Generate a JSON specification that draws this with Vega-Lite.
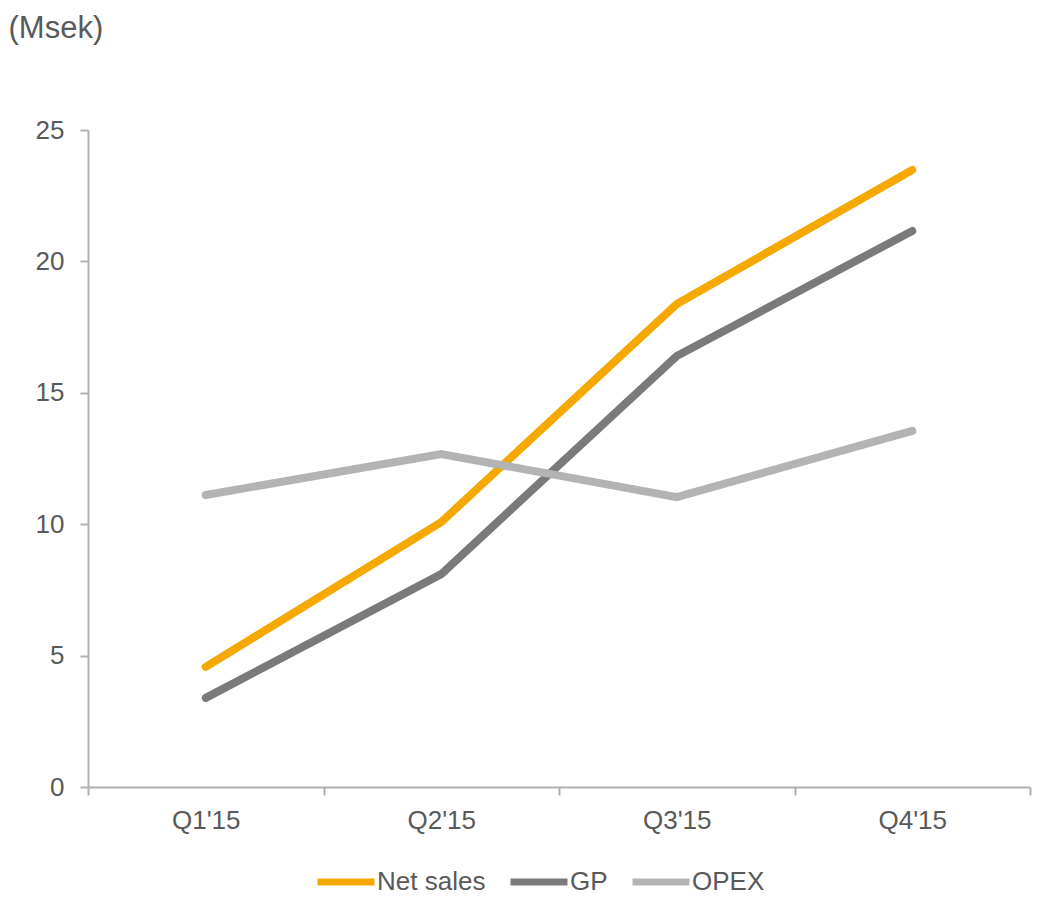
{
  "$schema": "https://vega.github.io/schema/vega-lite/v6.json",
  "width": 942,
  "height": 657,
  "autosize": "none",
  "padding": {"left": 88, "top": 130, "right": 8, "bottom": 113},
  "background": "white",
  "config": {
    "view": {"stroke": null},
    "font": "Liberation Sans"
  },
  "data": {
    "values": [
      {"quarter": "Q1'15", "series": "Net sales", "value": 4.57},
      {"quarter": "Q2'15", "series": "Net sales", "value": 10.08},
      {"quarter": "Q3'15", "series": "Net sales", "value": 18.38},
      {"quarter": "Q4'15", "series": "Net sales", "value": 23.48},
      {"quarter": "Q1'15", "series": "GP", "value": 3.39},
      {"quarter": "Q2'15", "series": "GP", "value": 8.1},
      {"quarter": "Q3'15", "series": "GP", "value": 16.4},
      {"quarter": "Q4'15", "series": "GP", "value": 21.16},
      {"quarter": "Q1'15", "series": "OPEX", "value": 11.11},
      {"quarter": "Q2'15", "series": "OPEX", "value": 12.67},
      {"quarter": "Q3'15", "series": "OPEX", "value": 11.03},
      {"quarter": "Q4'15", "series": "OPEX", "value": 13.55}
    ]
  },
  "mark": {"type": "line", "strokeWidth": 8, "strokeCap": "round", "strokeJoin": "miter"},
  "encoding": {
    "x": {
      "field": "quarter",
      "type": "ordinal",
      "sort": null,
      "scale": {"type": "band", "paddingInner": 0, "paddingOuter": 0},
      "axis": {
        "title": null,
        "labelAngle": 0,
        "tickBand": "extent",
        "domainColor": "#b0b0b0",
        "domainWidth": 2,
        "tickColor": "#b0b0b0",
        "tickWidth": 2,
        "tickSize": 8,
        "labelFontSize": 26,
        "labelColor": "#595959",
        "labelPadding": 12,
        "grid": false
      }
    },
    "y": {
      "field": "value",
      "type": "quantitative",
      "scale": {"domain": [0, 25], "nice": false},
      "axis": {
        "values": [0, 5, 10, 15, 20, 25],
        "title": "(Msek)",
        "titleAngle": 0,
        "titleX": -80,
        "titleY": -93,
        "titleAlign": "left",
        "titleBaseline": "alphabetic",
        "titleFontSize": 31,
        "titleFontWeight": "normal",
        "titleColor": "#595959",
        "domainColor": "#b0b0b0",
        "domainWidth": 2,
        "tickColor": "#b0b0b0",
        "tickWidth": 2,
        "tickSize": 8,
        "labelFontSize": 26,
        "labelColor": "#595959",
        "labelPadding": 16,
        "grid": false
      }
    },
    "color": {
      "field": "series",
      "type": "nominal",
      "sort": ["Net sales", "GP", "OPEX"],
      "scale": {"domain": ["Net sales", "GP", "OPEX"], "range": ["#F5A800", "#7a7a7a", "#b3b3b3"]},
      "legend": {
        "title": null,
        "orient": "none",
        "direction": "horizontal",
        "legendX": 226,
        "legendY": 720,
        "symbolType": "stroke",
        "symbolSize": 3249,
        "symbolStrokeWidth": 7,
        "labelFontSize": 26,
        "labelColor": "#595959",
        "labelOffset": -1,
        "columnPadding": 10
      }
    }
  }
}
